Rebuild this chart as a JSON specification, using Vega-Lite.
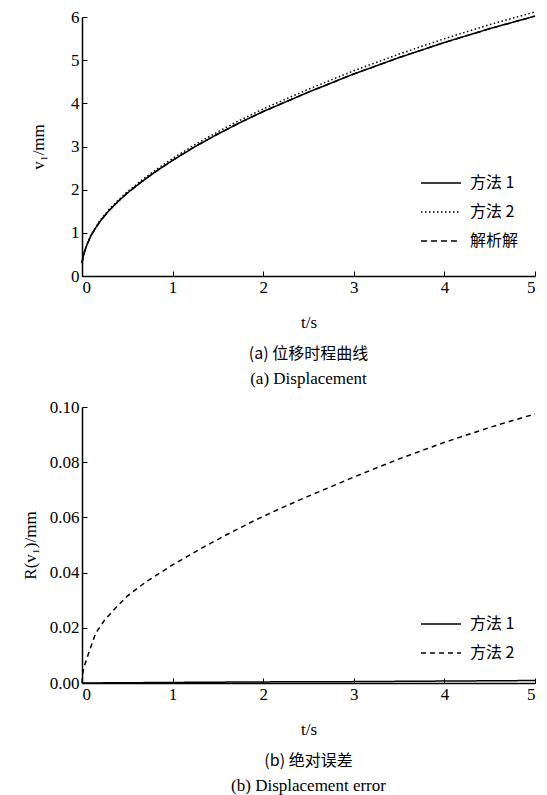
{
  "$schema": "https://vega.github.io/schema/vega-lite/v6.json",
  "padding": {"left": 21, "top": 8, "right": 5, "bottom": 5},
  "background": "white",
  "resolve": {"scale": {"strokeDash": "independent"}, "legend": {"strokeDash": "independent"}},
  "config": {
    "view": {"stroke": null},
    "concat": {"spacing": 11},
    "legend": {"orient": "none", "title": null, "labelFont": "Noto Sans CJK SC", "labelFontSize": 16, "labelColor": "black",
      "symbolType": "stroke", "symbolSize": 1600, "symbolStrokeWidth": 1.5, "symbolStrokeColor": "black", "rowPadding": -22, "padding": 0, "labelOffset": 8},
    "title": {"orient": "bottom", "anchor": "middle", "font": "Noto Sans CJK SC", "fontSize": 16, "fontWeight": "normal", "color": "black",
      "subtitleFont": "Liberation Serif", "subtitleFontSize": 17, "subtitleColor": "black", "subtitlePadding": 9, "offset": 16}
  },
  "datasets": {
    "disp": [
      {"t": 0, "v": 0.3, "s": "方法 1"}, {"t": 0.01, "v": 0.42, "s": "方法 1"}, {"t": 0.03, "v": 0.58, "s": "方法 1"}, {"t": 0.06, "v": 0.75, "s": "方法 1"},
      {"t": 0.1, "v": 0.94, "s": "方法 1"}, {"t": 0.15, "v": 1.11, "s": "方法 1"}, {"t": 0.2, "v": 1.27, "s": "方法 1"}, {"t": 0.3, "v": 1.52, "s": "方法 1"},
      {"t": 0.4, "v": 1.73, "s": "方法 1"}, {"t": 0.5, "v": 1.92, "s": "方法 1"}, {"t": 0.65, "v": 2.17, "s": "方法 1"}, {"t": 0.8, "v": 2.40, "s": "方法 1"},
      {"t": 1, "v": 2.68, "s": "方法 1"}, {"t": 1.25, "v": 3.0, "s": "方法 1"}, {"t": 1.5, "v": 3.29, "s": "方法 1"}, {"t": 1.75, "v": 3.56, "s": "方法 1"},
      {"t": 2, "v": 3.81, "s": "方法 1"}, {"t": 2.5, "v": 4.26, "s": "方法 1"}, {"t": 3, "v": 4.68, "s": "方法 1"}, {"t": 3.5, "v": 5.06, "s": "方法 1"},
      {"t": 4, "v": 5.41, "s": "方法 1"}, {"t": 4.5, "v": 5.73, "s": "方法 1"}, {"t": 5, "v": 6.02, "s": "方法 1"},
      {"t": 0, "v": 0.3, "s": "方法 2"}, {"t": 0.01, "v": 0.424, "s": "方法 2"}, {"t": 0.03, "v": 0.587, "s": "方法 2"}, {"t": 0.06, "v": 0.759, "s": "方法 2"},
      {"t": 0.1, "v": 0.953, "s": "方法 2"}, {"t": 0.15, "v": 1.128, "s": "方法 2"}, {"t": 0.2, "v": 1.29, "s": "方法 2"}, {"t": 0.3, "v": 1.545, "s": "方法 2"},
      {"t": 0.4, "v": 1.758, "s": "方法 2"}, {"t": 0.5, "v": 1.952, "s": "方法 2"}, {"t": 0.65, "v": 2.204, "s": "方法 2"}, {"t": 0.8, "v": 2.438, "s": "方法 2"},
      {"t": 1, "v": 2.723, "s": "方法 2"}, {"t": 1.25, "v": 3.047, "s": "方法 2"}, {"t": 1.5, "v": 3.342, "s": "方法 2"}, {"t": 1.75, "v": 3.616, "s": "方法 2"},
      {"t": 2, "v": 3.871, "s": "方法 2"}, {"t": 2.5, "v": 4.328, "s": "方法 2"}, {"t": 3, "v": 4.755, "s": "方法 2"}, {"t": 3.5, "v": 5.141, "s": "方法 2"},
      {"t": 4, "v": 5.497, "s": "方法 2"}, {"t": 4.5, "v": 5.823, "s": "方法 2"}, {"t": 5, "v": 6.118, "s": "方法 2"},
      {"t": 0, "v": 0.3, "s": "解析解"}, {"t": 0.01, "v": 0.42, "s": "解析解"}, {"t": 0.03, "v": 0.58, "s": "解析解"}, {"t": 0.06, "v": 0.75, "s": "解析解"},
      {"t": 0.1, "v": 0.94, "s": "解析解"}, {"t": 0.15, "v": 1.11, "s": "解析解"}, {"t": 0.2, "v": 1.27, "s": "解析解"}, {"t": 0.3, "v": 1.52, "s": "解析解"},
      {"t": 0.4, "v": 1.73, "s": "解析解"}, {"t": 0.5, "v": 1.92, "s": "解析解"}, {"t": 0.65, "v": 2.17, "s": "解析解"}, {"t": 0.8, "v": 2.40, "s": "解析解"},
      {"t": 1, "v": 2.68, "s": "解析解"}, {"t": 1.25, "v": 3.0, "s": "解析解"}, {"t": 1.5, "v": 3.29, "s": "解析解"}, {"t": 1.75, "v": 3.56, "s": "解析解"},
      {"t": 2, "v": 3.81, "s": "解析解"}, {"t": 2.5, "v": 4.26, "s": "解析解"}, {"t": 3, "v": 4.68, "s": "解析解"}, {"t": 3.5, "v": 5.06, "s": "解析解"},
      {"t": 4, "v": 5.41, "s": "解析解"}, {"t": 4.5, "v": 5.73, "s": "解析解"}, {"t": 5, "v": 6.02, "s": "解析解"}
    ],
    "err": [
      {"t": 0, "e": 0, "s": "方法 1"}, {"t": 1, "e": 0.0002, "s": "方法 1"}, {"t": 2, "e": 0.0004, "s": "方法 1"}, {"t": 3, "e": 0.0005, "s": "方法 1"},
      {"t": 4, "e": 0.0007, "s": "方法 1"}, {"t": 5, "e": 0.0009, "s": "方法 1"},
      {"t": 0, "e": 0, "s": "方法 2"}, {"t": 0.01, "e": 0.004, "s": "方法 2"}, {"t": 0.03, "e": 0.0065, "s": "方法 2"}, {"t": 0.07, "e": 0.0105, "s": "方法 2"},
      {"t": 0.15, "e": 0.018, "s": "方法 2"}, {"t": 0.25, "e": 0.0228, "s": "方法 2"}, {"t": 0.37, "e": 0.0272, "s": "方法 2"}, {"t": 0.5, "e": 0.0315, "s": "方法 2"},
      {"t": 0.7, "e": 0.0365, "s": "方法 2"}, {"t": 1, "e": 0.0428, "s": "方法 2"}, {"t": 1.3, "e": 0.0485, "s": "方法 2"}, {"t": 1.6, "e": 0.0538, "s": "方法 2"},
      {"t": 1.9, "e": 0.0588, "s": "方法 2"}, {"t": 2.2, "e": 0.0634, "s": "方法 2"}, {"t": 2.5, "e": 0.0677, "s": "方法 2"}, {"t": 3, "e": 0.0746, "s": "方法 2"},
      {"t": 3.5, "e": 0.0812, "s": "方法 2"}, {"t": 4, "e": 0.0872, "s": "方法 2"}, {"t": 4.5, "e": 0.0926, "s": "方法 2"}, {"t": 5, "e": 0.0975, "s": "方法 2"}
    ]
  },
  "vconcat": [
    {
      "width": 453, "height": 259,
      "data": {"name": "disp"},
      "title": {"text": "(a)  位移时程曲线", "subtitle": "(a)  Displacement"},
      "mark": {"type": "line", "color": "black", "strokeWidth": 1.5},
      "encoding": {
        "x": {"field": "t", "type": "quantitative", "scale": {"domain": [0, 5], "nice": false},
          "axis": {"title": "t/s", "tickCount": 5, "titlePadding": 19, "grid": false, "domainColor": "black", "domainWidth": 1.5, "tickColor": "black", "tickSize": -5, "tickWidth": 1,
            "labelFont": "Liberation Serif", "labelFontSize": 17, "labelColor": "black", "labelPadding": 8,
            "titleFont": "Liberation Serif", "titleFontSize": 17, "titleFontWeight": "normal", "titleColor": "black"}},
        "y": {"field": "v", "type": "quantitative", "scale": {"domain": [0, 6], "nice": false},
          "axis": {"title": "v₁/mm", "tickCount": 6, "titlePadding": 23, "grid": false, "domainColor": "black", "domainWidth": 1.5, "tickColor": "black", "tickSize": -5, "tickWidth": 1,
            "labelFont": "Liberation Serif", "labelFontSize": 17, "labelColor": "black", "labelPadding": 8,
            "titleFont": "Liberation Serif", "titleFontSize": 17, "titleFontWeight": "normal", "titleColor": "black"}},
        "strokeDash": {"field": "s", "type": "nominal", "scale": {"domain": ["方法 1", "方法 2", "解析解"], "range": [[1, 0], [1.5, 2.5], [6, 4]]},
          "legend": {"legendX": 338, "legendY": 145}}
      }
    },
    {
      "width": 453, "height": 276,
      "data": {"name": "err"},
      "title": {"text": "(b)  绝对误差", "subtitle": "(b)  Displacement error"},
      "mark": {"type": "line", "color": "black", "strokeWidth": 1.5},
      "encoding": {
        "x": {"field": "t", "type": "quantitative", "scale": {"domain": [0, 5], "nice": false},
          "axis": {"title": "t/s", "tickCount": 5, "titlePadding": 19, "grid": false, "domainColor": "black", "domainWidth": 1.5, "tickColor": "black", "tickSize": -5, "tickWidth": 1,
            "labelFont": "Liberation Serif", "labelFontSize": 17, "labelColor": "black", "labelPadding": 8,
            "titleFont": "Liberation Serif", "titleFontSize": 17, "titleFontWeight": "normal", "titleColor": "black"}},
        "y": {"field": "e", "type": "quantitative", "scale": {"domain": [0, 0.1], "nice": false},
          "axis": {"title": "R(v₁)/mm", "values": [0, 0.02, 0.04, 0.06, 0.08, 0.1], "format": ".2f", "titlePadding": 10, "grid": false, "domainColor": "black", "domainWidth": 1.5, "tickColor": "black", "tickSize": -5, "tickWidth": 1,
            "labelFont": "Liberation Serif", "labelFontSize": 17, "labelColor": "black", "labelPadding": 8,
            "titleFont": "Liberation Serif", "titleFontSize": 17, "titleFontWeight": "normal", "titleColor": "black"}},
        "strokeDash": {"field": "s", "type": "nominal", "scale": {"domain": ["方法 1", "方法 2"], "range": [[1, 0], [5, 4]]},
          "legend": {"legendX": 338, "legendY": 196}}
      }
    }
  ]
}
